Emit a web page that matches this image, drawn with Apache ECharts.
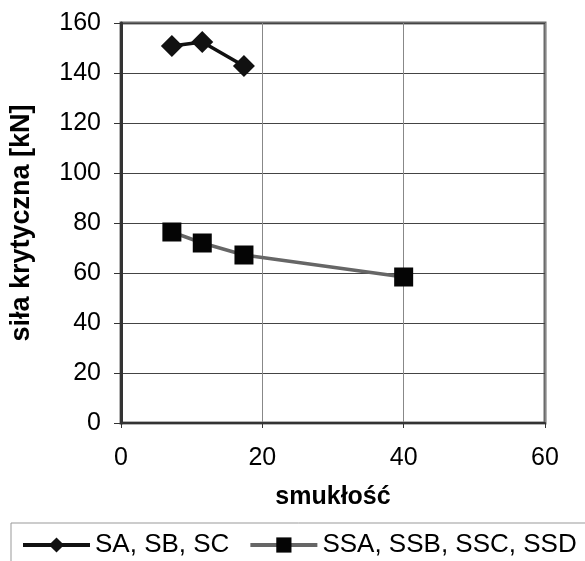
<!DOCTYPE html>
<html>
<head>
<meta charset="utf-8">
<script src="https://cdn.jsdelivr.net/npm/echarts@6/dist/echarts.min.js"></script>
<style>
  html, body { margin: 0; padding: 0; background: #fff; }
  #main { width: 585px; height: 561px; }
</style>
</head>
<body>
<div id="main"></div>
<script>
// smukłość (x) and siła krytyczna [kN] (y)
var seriesNames = ['SA, SB, SC', 'SSA, SSB, SSC, SSD'];
var xS = [7.2, 11.5, 17.4];
var yS = [150.8, 152.4, 142.8];
var xSS = [7.2, 11.5, 17.4, 40];
var ySS = [76.4, 72, 67.2, 58.4];

function pairs(xs, ys) {
    var out = [];
    for (var i = 0; i < xs.length; i++) out.push([xs[i], ys[i]]);
    return out;
}

var font = 'Liberation Sans, Arial, sans-serif';
var myChart = echarts.init(document.getElementById('main'));

var option = {
    animation: false,
    textStyle: { fontFamily: font },
    grid: {
        left: 121, top: 23, right: 40, bottom: 138,
        show: true, borderColor: '#6a6a6a', borderWidth: 3
    },
    legend: {
        left: 11, top: 523, width: 620,
        padding: [9, 30, 30, 10],
        borderColor: '#999', borderWidth: 1,
        itemWidth: 67, itemHeight: 19, itemGap: 19,
        lineStyle: { width: 4 },
        textStyle: { fontSize: 26, color: '#000', fontFamily: font },
        data: seriesNames
    },
    xAxis: {
        type: 'value', min: 0, max: 60, interval: 20,
        name: 'smukłość', nameLocation: 'middle', nameGap: 62,
        nameTextStyle: { fontSize: 25, fontWeight: 'bold', color: '#000' },
        axisLine: { lineStyle: { color: '#333', width: 2 } },
        axisTick: { show: true, length: 5, lineStyle: { color: '#333' } },
        axisLabel: { fontSize: 25, color: '#000', margin: 23 },
        splitLine: { lineStyle: { color: '#888', width: 1 } }
    },
    yAxis: {
        type: 'value', min: 0, max: 160, interval: 20,
        name: 'siła krytyczna [kN]', nameLocation: 'middle', nameGap: 86,
        nameTextStyle: { fontSize: 27, fontWeight: 'bold', color: '#000' },
        axisLine: { show: true, lineStyle: { color: '#333', width: 3 } },
        axisTick: { show: true, length: 7, lineStyle: { color: '#333' } },
        axisLabel: { fontSize: 25, color: '#000', margin: 20 },
        splitLine: { lineStyle: { color: '#444', width: 1 } }
    },
    series: [
        {
            name: seriesNames[0], type: 'line',
            data: pairs(xS, yS),
            symbol: 'diamond', symbolSize: 22,
            lineStyle: { color: '#111', width: 3.5 },
            itemStyle: { color: '#111' }
        },
        {
            name: seriesNames[1], type: 'line',
            data: pairs(xSS, ySS),
            symbol: 'rect', symbolSize: 19,
            lineStyle: { color: '#666', width: 3.5 },
            itemStyle: { color: '#050505' }
        }
    ]
};

myChart.setOption(option);
</script>
</body>
</html>
